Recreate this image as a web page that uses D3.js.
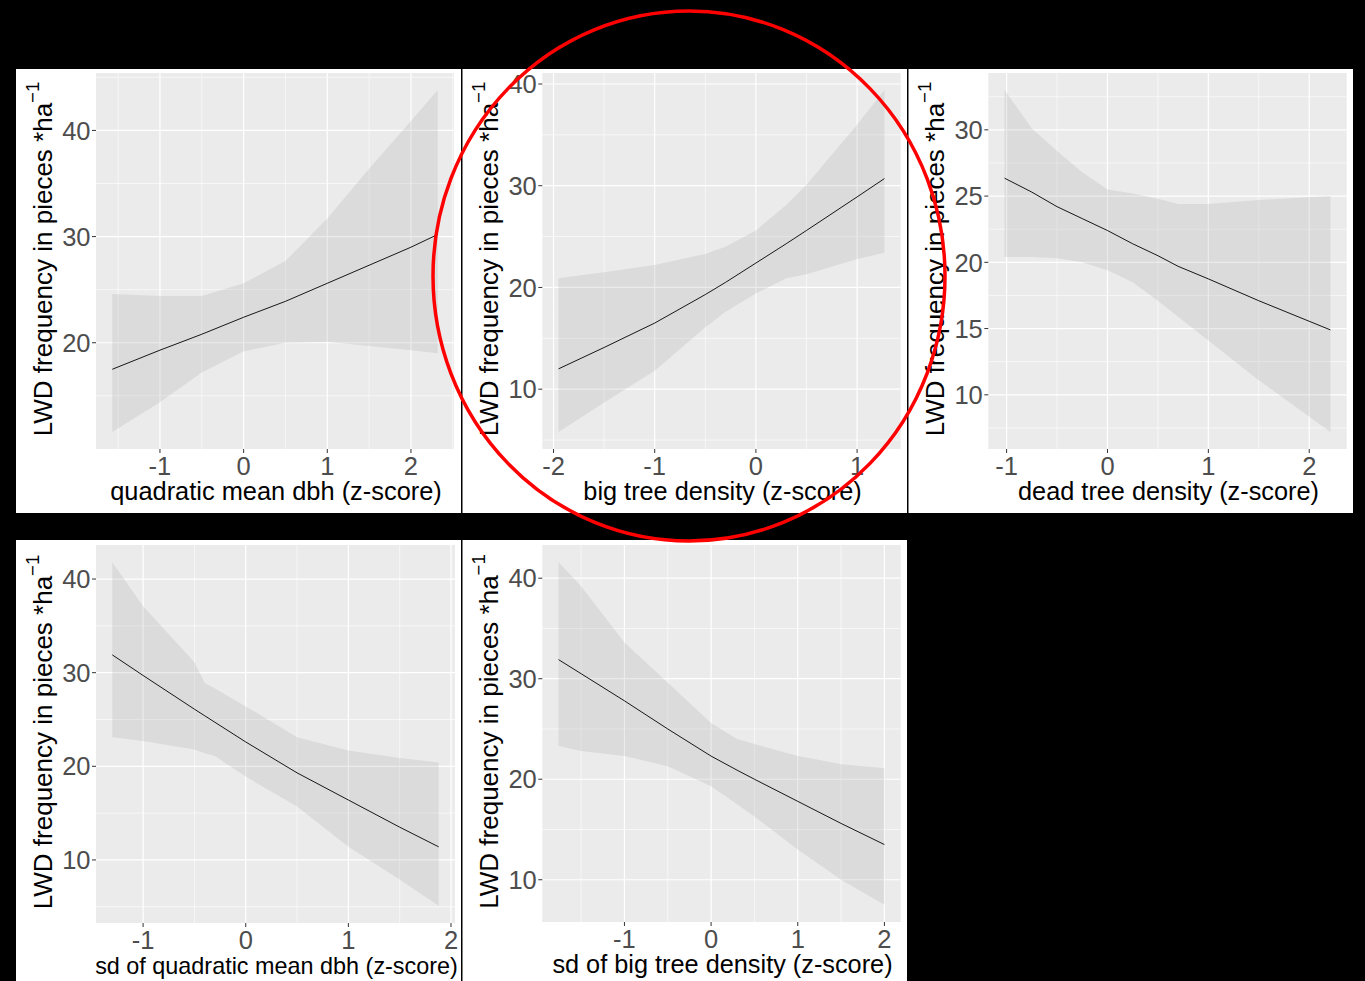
<!DOCTYPE html>
<html><head><meta charset="utf-8">
<script src="https://cdn.jsdelivr.net/npm/d3@7"></script>
<style>body{margin:0;background:#000;} svg{display:block;}</style>
</head><body>
<svg id="c" width="1365" height="981"></svg>
<script>
// ---- Data ----
// Panel 1: quadratic mean dbh
const qmdX   = [-1.57, -1, -0.5, 0, 0.5, 1, 1.5, 2, 2.32];
const qmdFit = [17.5, 19.3, 20.8, 22.4, 23.9, 25.6, 27.3, 29.0, 30.2];
const qmdLo  = [11.6, 14.4, 17.2, 19.2, 20.0, 20.1, 19.7, 19.3, 19.0];
const qmdHi  = [24.6, 24.4, 24.4, 25.6, 27.7, 31.7, 36.4, 40.9, 43.8];
const qmdXTicks = [-1, 0, 1, 2];
const qmdYTicks = [20, 30, 40];

// Panel 2: big tree density
const btdX   = [-1.95, -1.5, -1, -0.5, -0.3, 0, 0.3, 0.5, 1, 1.27];
const btdFit = [12.0, 14.1, 16.5, 19.3, 20.5, 22.4, 24.3, 25.6, 28.9, 30.7];
const btdLo  = [5.8, 8.7, 11.8, 16.1, 17.6, 19.4, 20.9, 21.3, 22.8, 23.4];
const btdHi  = [20.9, 21.5, 22.2, 23.3, 24.0, 25.6, 28.1, 30.1, 36.0, 39.4];
const btdXTicks = [-2, -1, 0, 1];
const btdYTicks = [10, 20, 30, 40];

// Panel 3: dead tree density
const dtdX   = [-1.02, -0.75, -0.5, -0.25, 0, 0.25, 0.5, 0.7, 1, 1.5, 2.21];
const dtdFit = [26.35, 25.3, 24.2, 23.3, 22.4, 21.4, 20.5, 19.7, 18.75, 17.1, 14.9];
const dtdLo  = [20.4, 20.4, 20.3, 20.0, 19.4, 18.5, 17.1, 15.9, 14.1, 11.1, 7.2];
const dtdHi  = [33.0, 30.1, 28.4, 26.8, 25.5, 25.2, 24.8, 24.4, 24.4, 24.7, 25.0];
const dtdXTicks = [-1, 0, 1, 2];
const dtdYTicks = [10, 15, 20, 25, 30];

// Panel 4: sd of quadratic mean dbh
const sdqX   = [-1.30, -1, -0.5, -0.4, -0.3, 0, 0.5, 1, 1.5, 1.88];
const sdqFit = [31.9, 29.7, 26.1, 25.4, 24.7, 22.6, 19.3, 16.4, 13.5, 11.4];
const sdqLo  = [23.1, 22.7, 21.8, 21.4, 21.1, 18.9, 15.7, 11.4, 7.9, 5.1];
const sdqHi  = [41.8, 37.1, 31.1, 28.9, 28.3, 26.4, 23.1, 21.7, 20.9, 20.4];
const sdqXTicks = [-1, 0, 1, 2];
const sdqYTicks = [10, 20, 30, 40];

// Panel 5: sd of big tree density
const sdbX   = [-1.76, -1.5, -1, -0.5, 0, 0.3, 0.5, 1, 1.5, 2.0];
const sdbFit = [31.9, 30.5, 27.8, 25.0, 22.3, 20.9, 20.0, 17.8, 15.6, 13.5];
const sdbLo  = [23.3, 22.8, 22.3, 21.3, 19.3, 17.5, 16.3, 13.0, 10.0, 7.5];
const sdbHi  = [41.6, 39.2, 33.6, 29.6, 25.6, 24.0, 23.5, 22.3, 21.5, 21.1];
const sdbXTicks = [-1, 0, 1, 2];
const sdbYTicks = [10, 20, 30, 40];

const xTitles = ["quadratic mean dbh (z-score)", "big tree density (z-score)", "dead tree density (z-score)",
                 "sd of quadratic mean dbh (z-score)", "sd of big tree density (z-score)"];
const yTitleMain = "LWD frequency in pieces *ha";
const yTitleSup = "\u22121";

// ---- Layout ----
const panels = [
  {x: qmdX, fit: qmdFit, lo: qmdLo, hi: qmdHi, xt: qmdXTicks, yt: qmdYTicks, title: xTitles[0], tfs: 25.4,
   box: [16, 69, 461, 513], plot: [96, 73, 454, 449]},
  {x: btdX, fit: btdFit, lo: btdLo, hi: btdHi, xt: btdXTicks, yt: btdYTicks, title: xTitles[1], tfs: 25.3,
   box: [462.5, 69, 907, 513], plot: [542.3, 73, 900.7, 449]},
  {x: dtdX, fit: dtdFit, lo: dtdLo, hi: dtdHi, xt: dtdXTicks, yt: dtdYTicks, title: xTitles[2], tfs: 25.3,
   box: [908.5, 69, 1353, 513], plot: [988.3, 73, 1346.7, 449]},
  {x: sdqX, fit: sdqFit, lo: sdqLo, hi: sdqHi, xt: sdqXTicks, yt: sdqYTicks, title: xTitles[3], tfs: 23.4,
   box: [16, 540, 461, 981], plot: [96, 545, 455, 923]},
  {x: sdbX, fit: sdbFit, lo: sdbLo, hi: sdbHi, xt: sdbXTicks, yt: sdbYTicks, title: xTitles[4], tfs: 25.3,
   box: [462.5, 540, 907, 981], plot: [542.3, 545, 900.7, 922]}
];

const svg = d3.select("#c");
svg.append("rect").attr("width", 1365).attr("height", 981).attr("fill", "#000");

function expand(ext) { const d = (ext[1] - ext[0]) * 0.05; return [ext[0] - d, ext[1] + d]; }
function minors(ticks, dom) {
  const step = ticks[1] - ticks[0];
  const out = [];
  for (let v = ticks[0] - step / 2; v <= ticks[ticks.length - 1] + step / 2 + 1e-9; v += step) {
    if (v >= dom[0] && v <= dom[1]) out.push(v);
  }
  return out;
}

const font = "'Liberation Sans', Arial, sans-serif";

panels.forEach((p, i) => {
  const [bx0, by0, bx1, by1] = p.box;
  const [px0, py0, px1, py1] = p.plot;
  svg.append("rect").attr("x", bx0).attr("y", by0).attr("width", bx1 - bx0).attr("height", by1 - by0).attr("fill", "#fff");

  const xDom = expand(d3.extent(p.x));
  const yDom = expand([d3.min(p.lo), d3.max(p.hi)]);
  const xs = d3.scaleLinear().domain(xDom).range([px0, px1]);
  const ys = d3.scaleLinear().domain(yDom).range([py1, py0]);

  const g = svg.append("g");
  g.append("rect").attr("x", px0).attr("y", py0).attr("width", px1 - px0).attr("height", py1 - py0).attr("fill", "#EBEBEB");

  // minor grid
  minors(p.yt, yDom).forEach(v => g.append("line").attr("x1", px0).attr("x2", px1)
    .attr("y1", ys(v)).attr("y2", ys(v)).attr("stroke", "#fff").attr("stroke-width", 0.6));
  minors(p.xt, xDom).forEach(v => g.append("line").attr("y1", py0).attr("y2", py1)
    .attr("x1", xs(v)).attr("x2", xs(v)).attr("stroke", "#fff").attr("stroke-width", 0.6));
  // major grid
  p.yt.forEach(v => g.append("line").attr("x1", px0).attr("x2", px1)
    .attr("y1", ys(v)).attr("y2", ys(v)).attr("stroke", "#fff").attr("stroke-width", 1.2));
  p.xt.forEach(v => g.append("line").attr("y1", py0).attr("y2", py1)
    .attr("x1", xs(v)).attr("x2", xs(v)).attr("stroke", "#fff").attr("stroke-width", 1.2));

  const pts = p.x.map((x, k) => ({x, fit: p.fit[k], lo: p.lo[k], hi: p.hi[k]}));
  g.append("path").datum(pts)
    .attr("d", d3.area().x(d => xs(d.x)).y0(d => ys(d.lo)).y1(d => ys(d.hi)).curve(d3.curveLinear))
    .attr("fill", "#999999").attr("fill-opacity", 0.2);
  g.append("path").datum(pts)
    .attr("d", d3.line().x(d => xs(d.x)).y(d => ys(d.fit)).curve(d3.curveLinear))
    .attr("fill", "none").attr("stroke", "#000").attr("stroke-width", 0.9);

  // ticks
  p.yt.forEach(v => {
    g.append("line").attr("x1", px0 - 4).attr("x2", px0).attr("y1", ys(v)).attr("y2", ys(v))
      .attr("stroke", "#333").attr("stroke-width", 1);
    g.append("text").attr("x", px0 - 5.5).attr("y", ys(v)).attr("dy", "0.36em")
      .attr("text-anchor", "end").attr("font-family", font).attr("font-size", 25.5)
      .attr("fill", "#4D4D4D").text(v);
  });
  p.xt.forEach(v => {
    g.append("line").attr("x1", xs(v)).attr("x2", xs(v)).attr("y1", py1).attr("y2", py1 + 4)
      .attr("stroke", "#333").attr("stroke-width", 1);
    g.append("text").attr("x", xs(v)).attr("y", py1 + 26)
      .attr("text-anchor", "middle").attr("font-family", font).attr("font-size", 25.5)
      .attr("fill", "#4D4D4D").text(v < 0 ? "-" + Math.abs(v) : v);
  });

  // titles
  g.append("text").attr("x", (px0 + px1) / 2 + 1).attr("y", py1 + 51)
    .attr("text-anchor", "middle").attr("font-family", font).attr("font-size", p.tfs)
    .attr("fill", "#000").text(p.title);
  const yt = g.append("text")
    .attr("transform", `translate(${px0 - 44},${(py0 + py1) / 2 - 2}) rotate(-90)`)
    .attr("text-anchor", "middle").attr("font-family", font).attr("font-size", 26).attr("fill", "#000");
  yt.append("tspan").text(yTitleMain);
  yt.append("tspan").attr("dy", -13).attr("font-size", 18.5).text(yTitleSup);
});

// red highlight ellipse
svg.append("ellipse").attr("cx", 689).attr("cy", 276).attr("rx", 256).attr("ry", 265)
  .attr("fill", "none").attr("stroke", "#FF0000").attr("stroke-width", 3.5);
</script>
</body></html>
